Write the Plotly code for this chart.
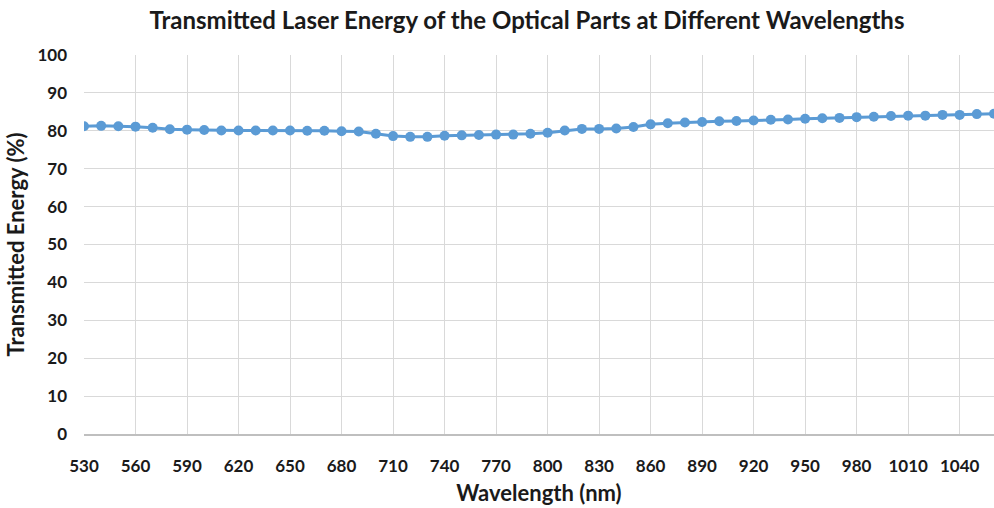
import plotly.graph_objects as go

wavelengths = list(range(530, 1061, 10))
transmitted = [81.2, 81.3, 81.2, 81.1, 80.8, 80.4, 80.3, 80.2, 80.1, 80.1,
               80.1, 80.1, 80.1, 80.0, 80.0, 79.9, 79.8, 79.2, 78.6, 78.4,
               78.4, 78.7, 78.8, 78.9, 79.0, 79.0, 79.2, 79.5, 80.1, 80.5,
               80.5, 80.6, 81.0, 81.7, 82.0, 82.2, 82.3, 82.5, 82.6, 82.7,
               82.9, 83.0, 83.2, 83.3, 83.4, 83.6, 83.7, 83.9, 84.0, 84.0,
               84.2, 84.2, 84.4, 84.5]
x_ticks = list(range(530, 1041, 30))
y_ticks = list(range(0, 101, 10))

FONT = "Lato"
TXT = "#1a1a1a"

fig = go.Figure()
fig.add_trace(go.Scatter(
    x=wavelengths, y=transmitted, mode="lines+markers",
    line=dict(color="#5b9bd5", width=3),
    marker=dict(color="#5b9bd5", size=10),
    cliponaxis=True, showlegend=False,
))

fig.update_layout(
    width=994, height=508,
    margin=dict(l=84, r=0, t=55, b=74),
    paper_bgcolor="white", plot_bgcolor="white",
    font=dict(family=FONT, color=TXT),
    title=dict(text="<b>Transmitted Laser Energy of the Optical Parts at Different Wavelengths</b>",
               x=527/994, xanchor="center", y=1 - 21/508, yanchor="middle",
               font=dict(size=24, family=FONT, color=TXT)),
    xaxis=dict(range=[530, 1060], tickmode="array", tickvals=x_ticks,
               ticktext=[f"<b>{v}</b>" for v in x_ticks],
               showgrid=True, gridcolor="#d9d9d9", gridwidth=1,
               showline=True, linecolor="#bfbfbf", linewidth=1.5,
               ticks="", zeroline=False, ticklabelstandoff=16,
               tickfont=dict(size=17, family=FONT, color=TXT),
               title=dict(text="<b>Wavelength (nm)</b>", standoff=10,
                          font=dict(size=22, family=FONT, color=TXT))),
    yaxis=dict(range=[0, 100], tickmode="array", tickvals=y_ticks,
               ticktext=[f"<b>{v}</b>" for v in y_ticks],
               showgrid=True, gridcolor="#d9d9d9", gridwidth=1,
               showline=False, ticks="", zeroline=False, ticklabelstandoff=16,
               tickfont=dict(size=17, family=FONT, color=TXT),
               title=dict(text="<b>Transmitted Energy (%)</b>", standoff=6,
                          font=dict(size=22, family=FONT, color=TXT))),
)

fig.write_html("out.html")
